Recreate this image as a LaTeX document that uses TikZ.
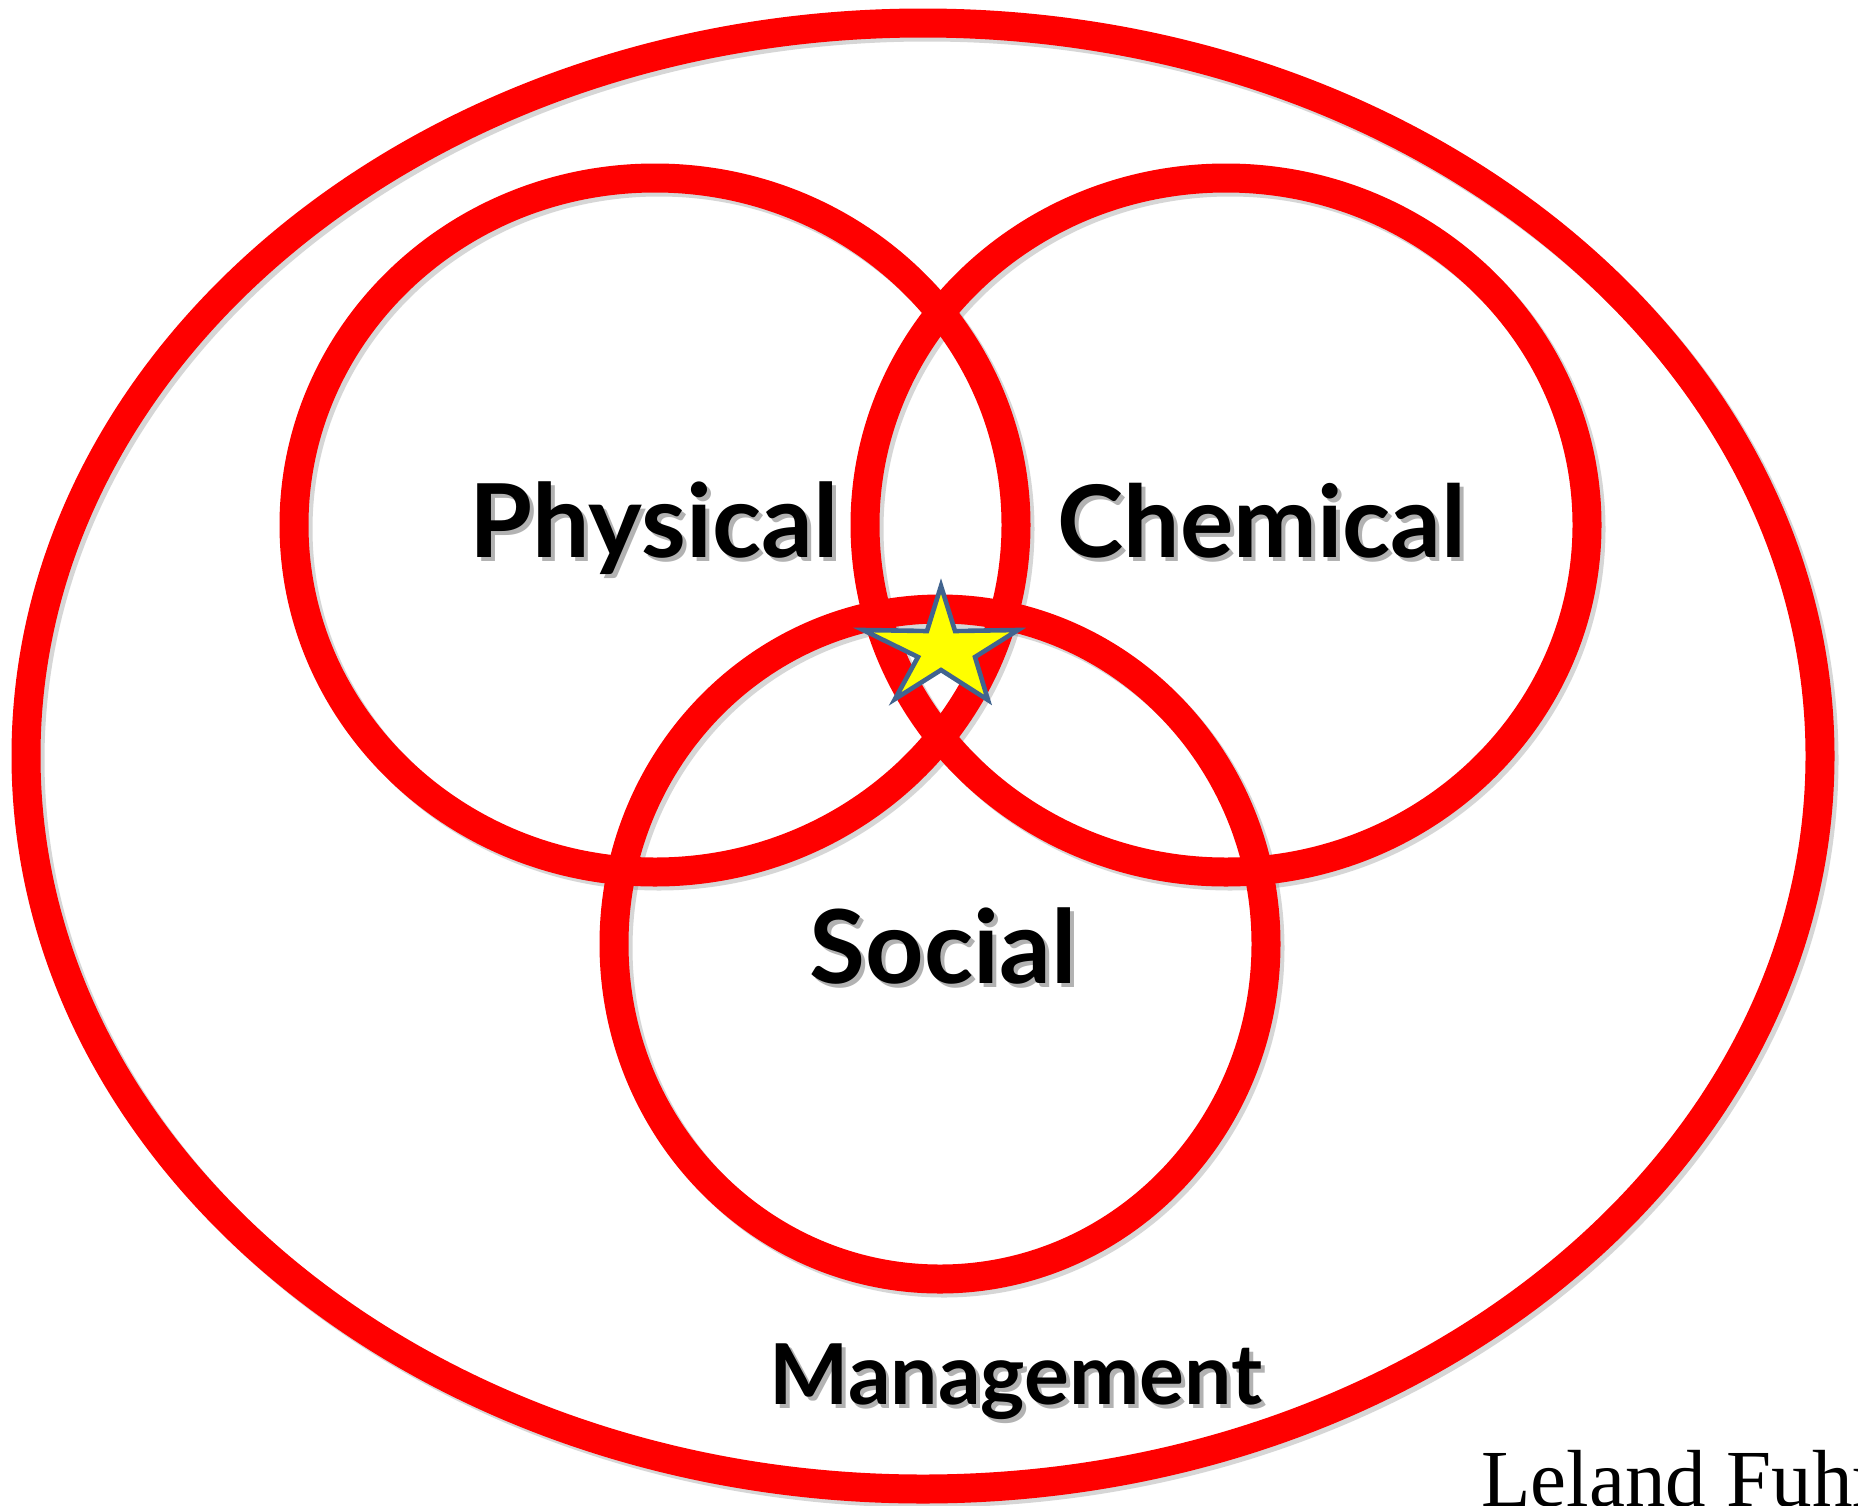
\documentclass[tikz,border=0pt]{standalone}
\usepackage{fontspec}
\setmainfont{Lato}
\newfontfamily\serifname{Liberation Serif}
\definecolor{ringred}{HTML}{FF0000}
\definecolor{starblue}{HTML}{41648F}
\definecolor{staryellow}{HTML}{FFFF00}
\newcommand{\shadowtext}[1]{\makebox[0pt][l]{\hspace{2pt}\raisebox{-2pt}{\textcolor{black!30}{#1}}}#1}
\tikzset{
  ring/.style={draw=ringred, line width=14.5pt},
  ringshadow/.style={draw=black!45, line width=14.5pt, opacity=0.35},
  label/.style={font=\bfseries\fontsize{51}{60}\selectfont, anchor=base, inner sep=0pt},
}
\begin{document}
\begin{tikzpicture}[x=0.5pt, y=-0.5pt]
\useasboundingbox (0,0) rectangle (1858,1505);
\clip (0,0) rectangle (1858,1505);
\fill[white] (0,0) rectangle (1858,1505);
% shadows of rings
\draw[ringshadow] (927,760) ellipse [x radius=897, y radius=733];
\draw[ringshadow] (659,529) ellipse [x radius=361, y radius=347];
\draw[ringshadow] (1230,529) ellipse [x radius=361, y radius=347];
\draw[ringshadow] (944,948) ellipse [x radius=326, y radius=335];
% rings
\draw[ring] (923,756) ellipse [x radius=897, y radius=733];
\draw[ring] (655,525) ellipse [x radius=361, y radius=347];
\draw[ring] (1226,525) ellipse [x radius=361, y radius=347];
\draw[ring] (940,944) ellipse [x radius=326, y radius=335];
% star
\draw[draw=starblue, fill=staryellow, line width=2.3pt, line join=miter]
  (941,586) -- (955,631) -- (1018,630) -- (975,657) -- (988,700) -- (941,670)
  -- (895,699) -- (918,657) -- (863,630) -- (927,631) -- cycle;
% labels
\node[label] (phys) at (654,557) {\shadowtext{Physical}};
\node[label, font=\bfseries\fontsize{50}{60}\selectfont] (chem) at (1262,557) {\shadowtext{Chemical}};
\node[label] (soc) at (943,983) {\shadowtext{Social}};
\node[label, font=\bfseries\fontsize{42}{50}\selectfont] (mgmt) at (1016,1404) {\shadowtext{Management}};
\node[anchor=base west, inner sep=0pt, font=\serifname\fontsize{40.5}{48}\selectfont] (auth) at (1481,1506) {Leland Fuhr};
\end{tikzpicture}
\end{document}
